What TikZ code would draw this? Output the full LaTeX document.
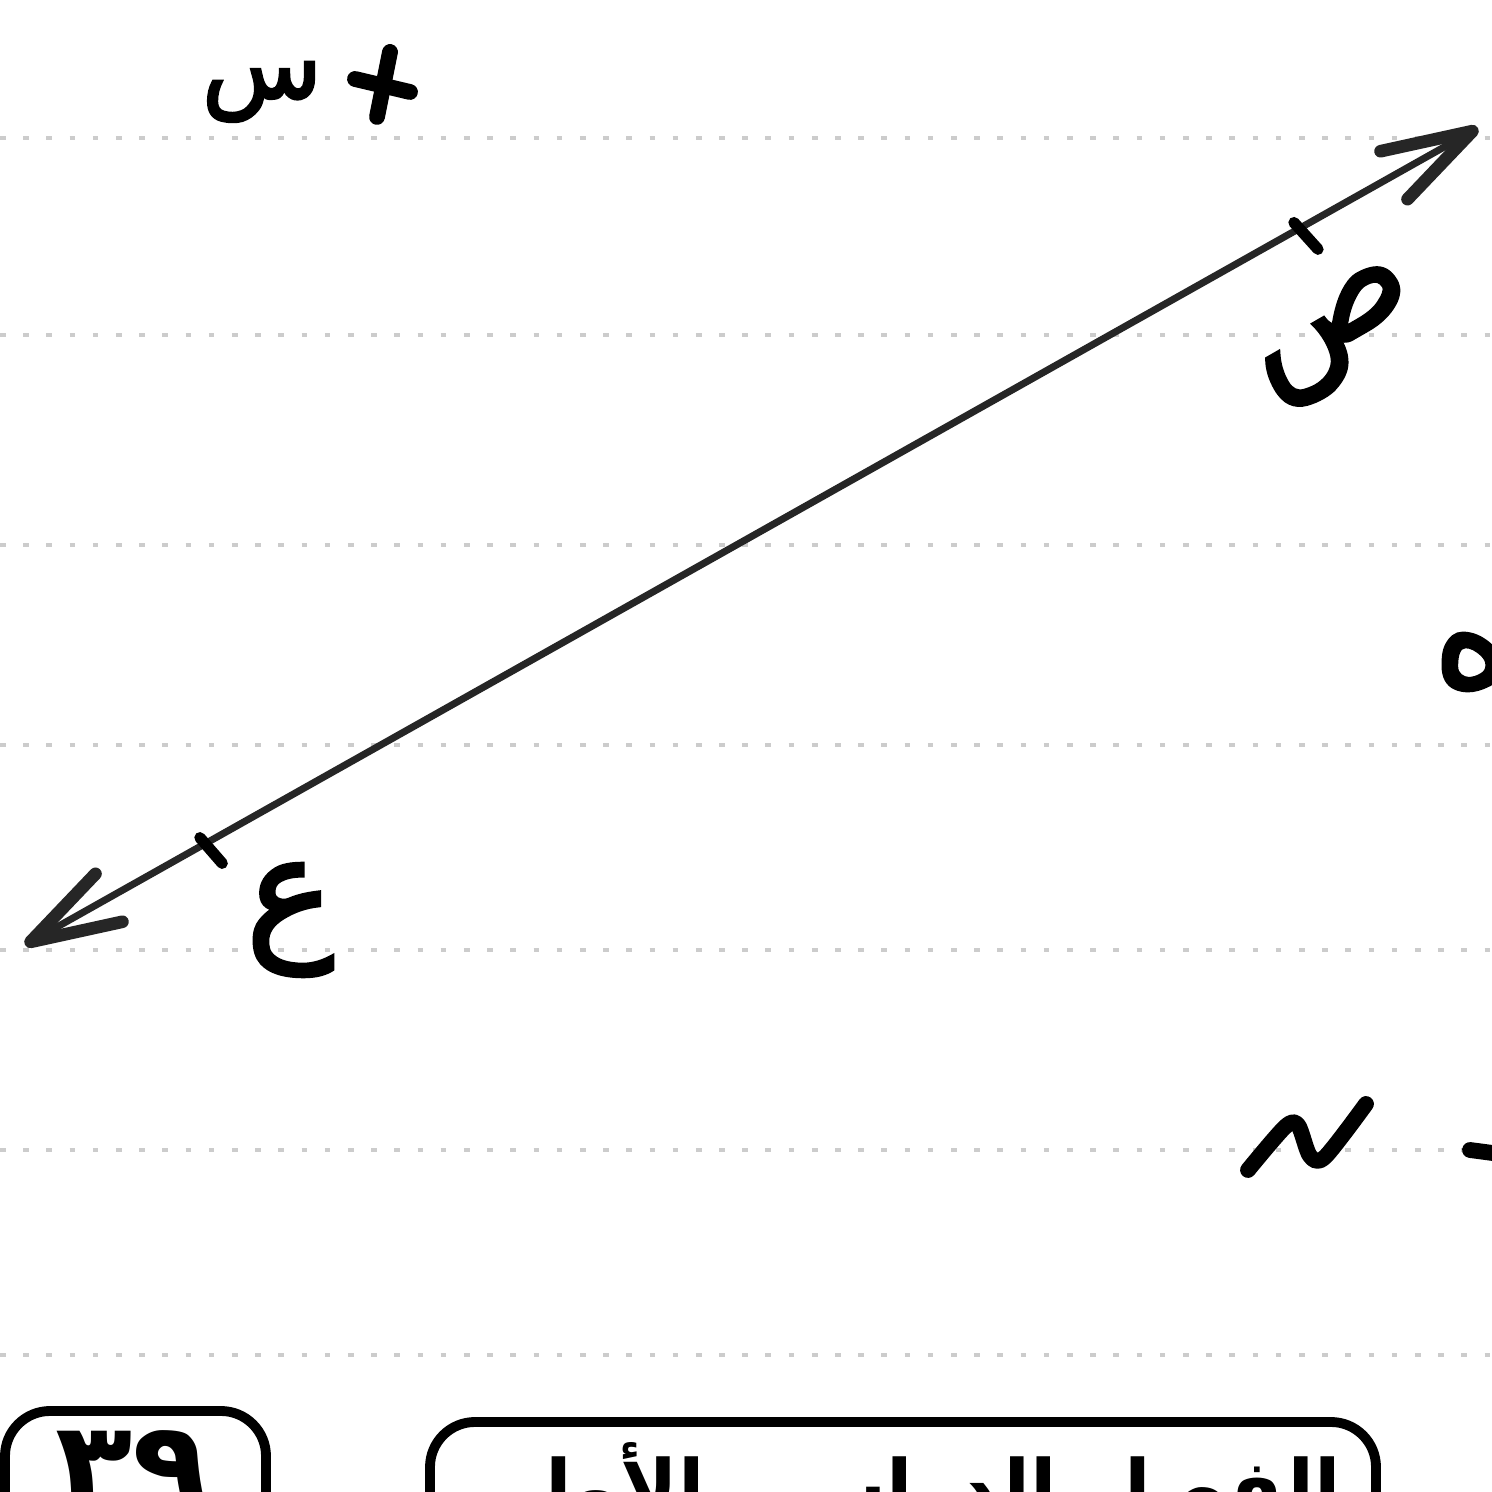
\documentclass[tikz,border=0pt]{standalone}
\usepackage{fontspec}
\newfontfamily\handfont[Script=Arabic,FakeBold=2.5]{DejaVu Sans}
\newfontfamily\boxfont[Script=Arabic]{DejaVu Sans}
\TeXXeTstate=1
\usetikzlibrary{arrows.meta}
\tikzset{
  ruled/.style={gray!40, line width=1.4pt, dash pattern=on 1.6pt off 5pt},
  hand/.style={line width=4.5pt, line cap=round, line join=round},
  letter/.style={font=\handfont\fontsize{42}{48}\selectfont, inner sep=0pt},
  frame/.style={line width=2.8pt, rounded corners=0.45cm},
  barb/.tip={Straight Barb[length=9mm,width=5.5mm,line width=3.6pt,round]},
}
\begin{document}
\begin{tikzpicture}
    \useasboundingbox (0,0) rectangle (14.92,14.92);
    \clip (0,0) rectangle (14.92,14.92);
    \fill[white] (0,0) rectangle (14.92,14.92);
    \foreach \y in {13.54,11.57,9.47,7.47,5.42,3.42,1.37}
        \draw[ruled] (0,\y) -- (14.92,\y);
    \coordinate (endE) at (0.25,5.47);
    \coordinate (endS) at (14.78,13.64);
    \draw[black!85, line width=2pt, barb-barb] (endE) -- (endS)
        coordinate[pos=0.124] (tickE) coordinate[pos=0.877] (tickS);
    \draw[hand, line width=3.2pt] (tickE) ++(131:0.08) -- ++(-49:0.34);
    \draw[hand, line width=3.2pt] (tickS) ++(132:0.08) -- ++(-48:0.36);
    \node[letter, rotate=30] (labS) at (13.38,11.55) {\beginR ص\endR};
    \node[letter] (labE) at (2.9,5.72) {\beginR ع\endR};
    \node[letter, font=\handfont\fontsize{28}{32}\selectfont] (labX) at (2.62,14.0) {\beginR س\endR};
    \coordinate (ptX) at (3.8,14.05);
    \draw[hand] (ptX) ++(-0.25,0.08) -- ++(0.55,-0.13);
    \draw[hand] (ptX) ++(0.1,0.35) -- ++(-0.13,-0.65);
    \node[letter] (labFive) at (14.72,8.3) {\beginR ه\endR};
    \draw[hand] plot[smooth] coordinates {(12.48,3.22) (12.85,3.65) (12.98,3.67) (13.1,3.36) (13.25,3.35) (13.66,3.88)};
    \draw[hand] (14.7,3.42) -- (15.0,3.38);
    \draw[frame] (0.05,-1) rectangle (2.66,0.81);
    \draw[frame] (4.3,-1) rectangle (13.76,0.70);
    \node[anchor=north, font=\boxfont\bfseries\fontsize{36}{40}\selectfont, inner sep=0pt] (page) at (1.33,0.62) {\beginR ٣٩\endR};
    \node[anchor=north, font=\boxfont\bfseries\fontsize{22}{26}\selectfont, inner sep=0pt] (term) at (9.23,0.5) {\beginR الفصل الدراسي الأول\endR};
\end{tikzpicture}
\end{document}
